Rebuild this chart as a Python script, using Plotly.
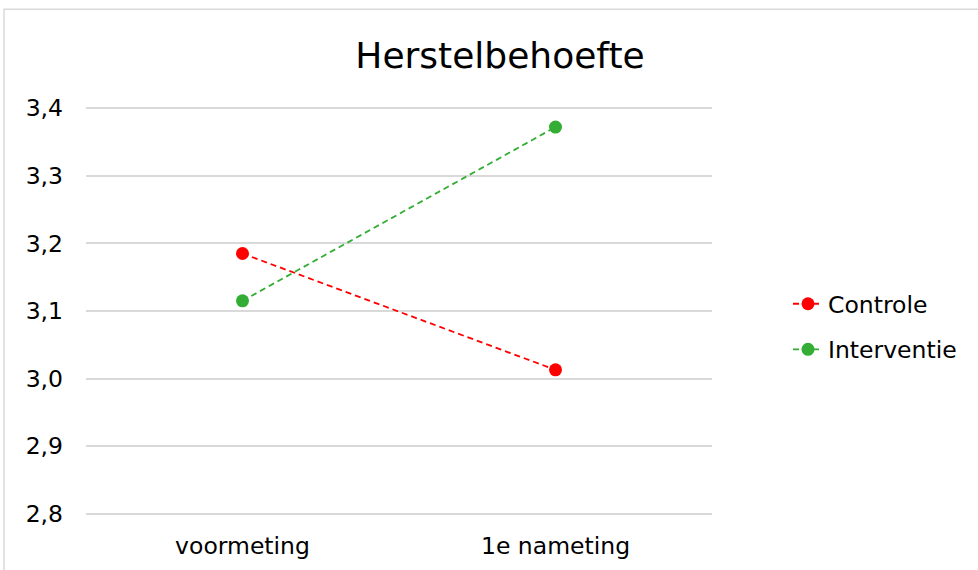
import plotly.graph_objects as go

categories = ["voormeting", "1e nameting"]
controle = [3.185, 3.013]
interventie = [3.115, 3.372]
series_names = ["Controle", "Interventie"]
title_text = "Herstelbehoefte"

W, H = 978, 570
ymin, ymax, pad = 2.8, 3.4, 0.015
top_px, bot_px = 108, 514
ppu = (bot_px - top_px) / (ymax - ymin)
T = top_px - pad * ppu
Bpx = bot_px + pad * ppu
L, Rx = 86, 712
R = W - Rx
B = H - Bpx
pw, ph = Rx - L, Bpx - T

fig = go.Figure()
for name, vals, col, grp in [(series_names[0], controle, "#FF0000", "a"),
                             (series_names[1], interventie, "#33AD33", "b")]:
    fig.add_trace(go.Scatter(
        x=categories, y=vals, name=name, mode="lines+markers",
        line=dict(color=col, width=1.8, dash="6px,4px"),
        marker=dict(color=col, size=13, symbol="circle"),
        legendgroup=grp,
    ))

font = "DejaVu Sans, Verdana, sans-serif"
fig.update_layout(
    width=W, height=H,
    margin=dict(l=L, r=R, t=T, b=B, autoexpand=False),
    paper_bgcolor="white", plot_bgcolor="white",
    separators=",.",
    font=dict(family=font, size=23.5, color="#000000"),
    title=dict(text=title_text, x=500 / W, xref="container", xanchor="center",
               y=1 - 55 / H, yref="container", yanchor="middle",
               font=dict(family=font, size=36, color="#000000")),
    xaxis=dict(type="category", range=[-0.5, 1.5], showgrid=False, zeroline=False,
               showline=False, ticks="", ticklabelstandoff=5, tickfont=dict(size=23.5),
               automargin=False),
    yaxis=dict(range=[ymin - pad, ymax + pad], tickvals=[2.8, 2.9, 3.0, 3.1, 3.2, 3.3, 3.4],
               tickformat=".1f",
               showgrid=True, gridcolor="#D9D9D9", gridwidth=1.5, zeroline=False,
               showline=False, ticks="", ticklabelstandoff=22, tickfont=dict(size=23.5),
               automargin=False),
    legend=dict(x=(788 - L) / pw, xanchor="left", y=(H - B - 327) / ph, yanchor="middle",
                font=dict(size=23.5), tracegroupgap=12, bgcolor="rgba(0,0,0,0)"),
    shapes=[dict(type="rect", xref="paper", yref="paper",
                 x0=(4 - L) / pw, x1=(W + 10 - L) / pw,
                 y0=(Bpx - (H + 10)) / ph, y1=(Bpx - 9) / ph,
                 line=dict(color="#D9D9D9", width=1.5), fillcolor="rgba(0,0,0,0)",
                 layer="below")],
)

fig.write_html("out.html")
